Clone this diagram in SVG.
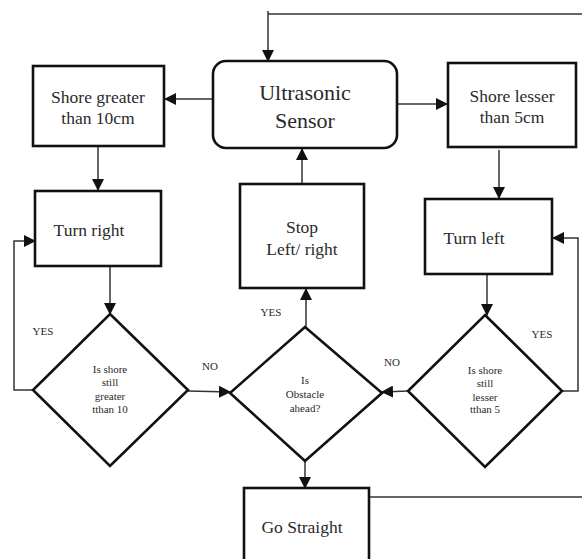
<svg xmlns="http://www.w3.org/2000/svg" width="582" height="559" viewBox="0 0 582 559">
<defs>
<marker id="ah" markerUnits="userSpaceOnUse" markerWidth="12" markerHeight="12" viewBox="0 0 12 12" refX="11" refY="6" orient="auto">
<path d="M0,0 L12,6 L0,12 Z" fill="#111"/>
</marker>
</defs>
<style>
.box{fill:#fff;stroke:#111;stroke-width:2.6}
.ln{fill:none;stroke:#333;stroke-width:1.5}
.arr{fill:none;stroke:#333;stroke-width:1.5;marker-end:url(#ah)}
text{font-family:'Liberation Serif','DejaVu Serif',serif;fill:#2a2a2a;text-anchor:middle}
.big{font-size:22px}
.med{font-size:17.5px}
.sm{font-size:11px}
</style>
<rect width="582" height="559" fill="#fff"/>
<g id="connectors">
<polyline class="ln" points="582,14 268,14"/>
<line class="arr" x1="268" y1="11" x2="268" y2="61"/>
<line class="arr" x1="213" y1="99" x2="165" y2="99"/>
<line class="arr" x1="397" y1="104" x2="447" y2="104"/>
<line class="arr" x1="98" y1="146" x2="98" y2="190"/>
<line class="arr" x1="499" y1="150" x2="499" y2="198"/>
<line class="arr" x1="110" y1="266" x2="110" y2="314"/>
<line class="arr" x1="487" y1="274" x2="487" y2="315"/>
<polyline class="arr" points="33,390 14,390 14,241 35,241"/>
<polyline class="arr" points="562,391 578,391 578,238 553,238"/>
<line class="arr" x1="188" y1="391" x2="230" y2="392"/>
<line class="arr" x1="408" y1="391" x2="382" y2="392"/>
<line class="arr" x1="306" y1="327" x2="306" y2="289"/>
<line class="arr" x1="302" y1="184" x2="302" y2="149"/>
<line class="arr" x1="305" y1="461" x2="305" y2="488"/>
<line class="ln" x1="369" y1="497" x2="582" y2="497"/>
<text class="sm" font-family="Liberation Serif, serif" x="43" y="335">YES</text>
<text class="sm" font-family="Liberation Serif, serif" x="210" y="370">NO</text>
<text class="sm" font-family="Liberation Serif, serif" x="271" y="316">YES</text>
<text class="sm" font-family="Liberation Serif, serif" x="392" y="366">NO</text>
<text class="sm" font-family="Liberation Serif, serif" x="542" y="338">YES</text>
</g>
<g id="ultrasonic" font-family="Liberation Serif, serif">
<rect class="box" x="213" y="61" width="184" height="87" rx="13"/>
<text class="big" x="305" y="100">Ultrasonic</text>
<text class="big" x="305" y="128">Sensor</text>
</g>
<g id="shore-greater" font-family="Liberation Serif, serif">
<rect class="box" x="33" y="66" width="131" height="80"/>
<text class="med" x="98" y="103">Shore greater</text>
<text class="med" x="98" y="124">than 10cm</text>
</g>
<g id="shore-lesser" font-family="Liberation Serif, serif">
<rect class="box" x="448" y="63" width="128" height="84"/>
<text class="med" x="512" y="102">Shore lesser</text>
<text class="med" x="512" y="123">than 5cm</text>
</g>
<g id="turn-right" font-family="Liberation Serif, serif">
<rect class="box" x="35" y="191" width="126" height="75"/>
<text class="med" x="89" y="236">Turn right</text>
</g>
<g id="stop" font-family="Liberation Serif, serif">
<rect class="box" x="240" y="184" width="124" height="104"/>
<text class="med" x="302" y="233">Stop</text>
<text class="med" x="302" y="255">Left/ right</text>
</g>
<g id="turn-left" font-family="Liberation Serif, serif">
<rect class="box" x="425" y="199" width="127" height="75"/>
<text class="med" x="474" y="244">Turn left</text>
</g>
<g id="diamond-greater" font-family="Liberation Serif, serif">
<polygon class="box" points="110,314 188,390 110,466 33,390"/>
<text class="sm" x="110" y="373">Is shore</text>
<text class="sm" x="110" y="386">still</text>
<text class="sm" x="110" y="400">greater</text>
<text class="sm" x="110" y="413">tthan 10</text>
</g>
<g id="diamond-obstacle" font-family="Liberation Serif, serif">
<polygon class="box" points="305,327 382,393 305,461 230,393"/>
<text class="sm" x="305" y="384">Is</text>
<text class="sm" x="305" y="398">Obstacle</text>
<text class="sm" x="305" y="412">ahead?</text>
</g>
<g id="diamond-lesser" font-family="Liberation Serif, serif">
<polygon class="box" points="485,315 562,391 485,467 408,391"/>
<text class="sm" x="485" y="374">Is shore</text>
<text class="sm" x="485" y="387">still</text>
<text class="sm" x="485" y="401">lesser</text>
<text class="sm" x="485" y="413">tthan 5</text>
</g>
<g id="go-straight" font-family="Liberation Serif, serif">
<rect class="box" x="244" y="488" width="125" height="80"/>
<text class="med" x="302" y="533">Go Straight</text>
</g>
</svg>
